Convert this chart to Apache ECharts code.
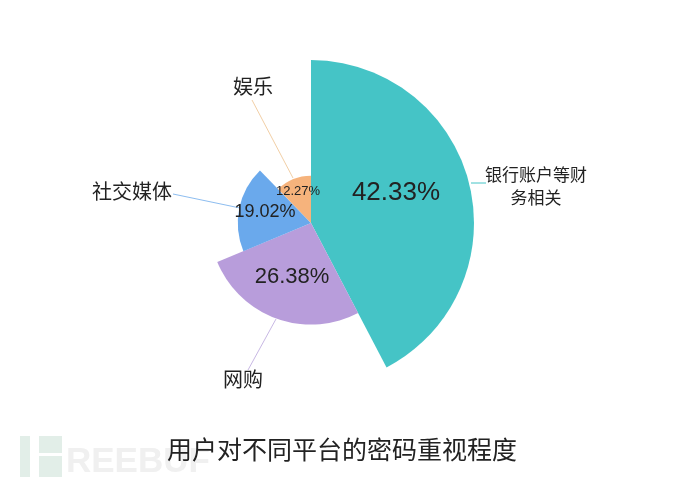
<!DOCTYPE html>
<html><head><meta charset="utf-8">
<script src="https://cdn.jsdelivr.net/npm/echarts@6/dist/echarts.min.js"></script>
<style>html,body{margin:0;padding:0;background:#fff}#c{width:694px;height:487px}</style>
</head><body><div id="c"></div>
<script>
const categories = ['银行账户等财务相关', '网购', '社交媒体', '娱乐'];
const labelNames = ['银行账户等财\n务相关', '网购', '社交媒体', '娱乐'];
const values = [42.33, 26.38, 19.02, 12.27];
const colors = ['#45C4C6', '#B89DDB', '#6AA9EC', '#F6B37C'];
const lineColors = ['#45C4C6', '#C8B8E4', '#8DBDF0', '#F2CFA6'];
const pctFontSizes = [26, 22, 18, 13];
const titleText = '用户对不同平台的密码重视程度';

const FONT = "Helvetica, Arial, 'Liberation Sans', 'Noto Sans CJK SC', sans-serif";
// label positions (layout, not data)
const pctPos = [[396, 193], [292, 277], [265, 212], [298, 191]];
const namePos = [[536, 188], [243, 381], [132, 193], [253, 88]];
const linePts = [
  [[471, 183], [486, 183]],
  [[276, 319], [248, 370]],
  [[240, 208], [173, 194]],
  [[293, 178], [252, 100]]
];

const chart = echarts.init(document.getElementById('c'), null, {renderer: 'canvas'});
const baseData = categories.map((n, i) => ({name: n, value: values[i]}));
chart.setOption({
  animation: false,
  backgroundColor: '#fff',
  color: colors,
  title: {
    text: titleText, left: 162, top: 435,
    textStyle: {fontSize: 25, fontWeight: 'normal', color: '#222', fontFamily: FONT}
  },
  graphic: [
    {type: 'rect', z: -10, shape: {x: 20, y: 436, width: 10, height: 41}, style: {fill: '#E2EEE8'}},
    {type: 'rect', z: -10, shape: {x: 39, y: 436, width: 23, height: 17}, style: {fill: '#E2EEE8'}},
    {type: 'rect', z: -10, shape: {x: 39, y: 456, width: 23, height: 21}, style: {fill: '#E2EEE8'}},
    {type: 'text', z: -10, left: 66, top: 445,
      style: {text: 'REEBUF', fontSize: 35, fontWeight: 'bold', fill: '#F0F0F0',
        fontFamily: "'Liberation Sans', Arial, sans-serif"}}
  ],
  series: [{
    type: 'pie', roseType: 'radius', center: [311, 223], radius: [0, 163],
    startAngle: 90, clockwise: true, silent: true,
    data: baseData.map((d, i) => ({
      name: d.name, value: d.value,
      itemStyle: {color: colors[i]},
      label: {fontSize: pctFontSizes[i]}
    })),
    label: {show: true, position: 'inside', formatter: '{c}%', color: '#222', fontFamily: FONT},
    labelLine: {show: false},
    labelLayout: function (p) {
      const q = pctPos[p.dataIndex];
      return {x: q[0], y: q[1], align: 'center', verticalAlign: 'middle'};
    }
  }, {
    type: 'pie', roseType: 'radius', center: [311, 223], radius: [0, 163],
    startAngle: 90, clockwise: true, silent: true,
    itemStyle: {color: 'rgba(0,0,0,0)'},
    data: baseData.map((d, i) => ({
      name: d.name, value: d.value,
      itemStyle: {color: 'rgba(0,0,0,0)'},
      label: {fontSize: i === 0 ? 17 : 20, lineHeight: 23},
      labelLine: {lineStyle: {color: lineColors[i], width: 1}}
    })),
    label: {show: true, position: 'outside', color: '#222', fontFamily: FONT,
      formatter: p => labelNames[p.dataIndex], align: 'center'},
    labelLine: {show: true, length: 10, length2: 10, smooth: false},
    labelLayout: function (p) {
      const q = namePos[p.dataIndex];
      return {x: q[0], y: q[1], align: 'center', verticalAlign: 'middle',
        labelLinePoints: linePts[p.dataIndex]};
    }
  }]
});
</script></body></html>
